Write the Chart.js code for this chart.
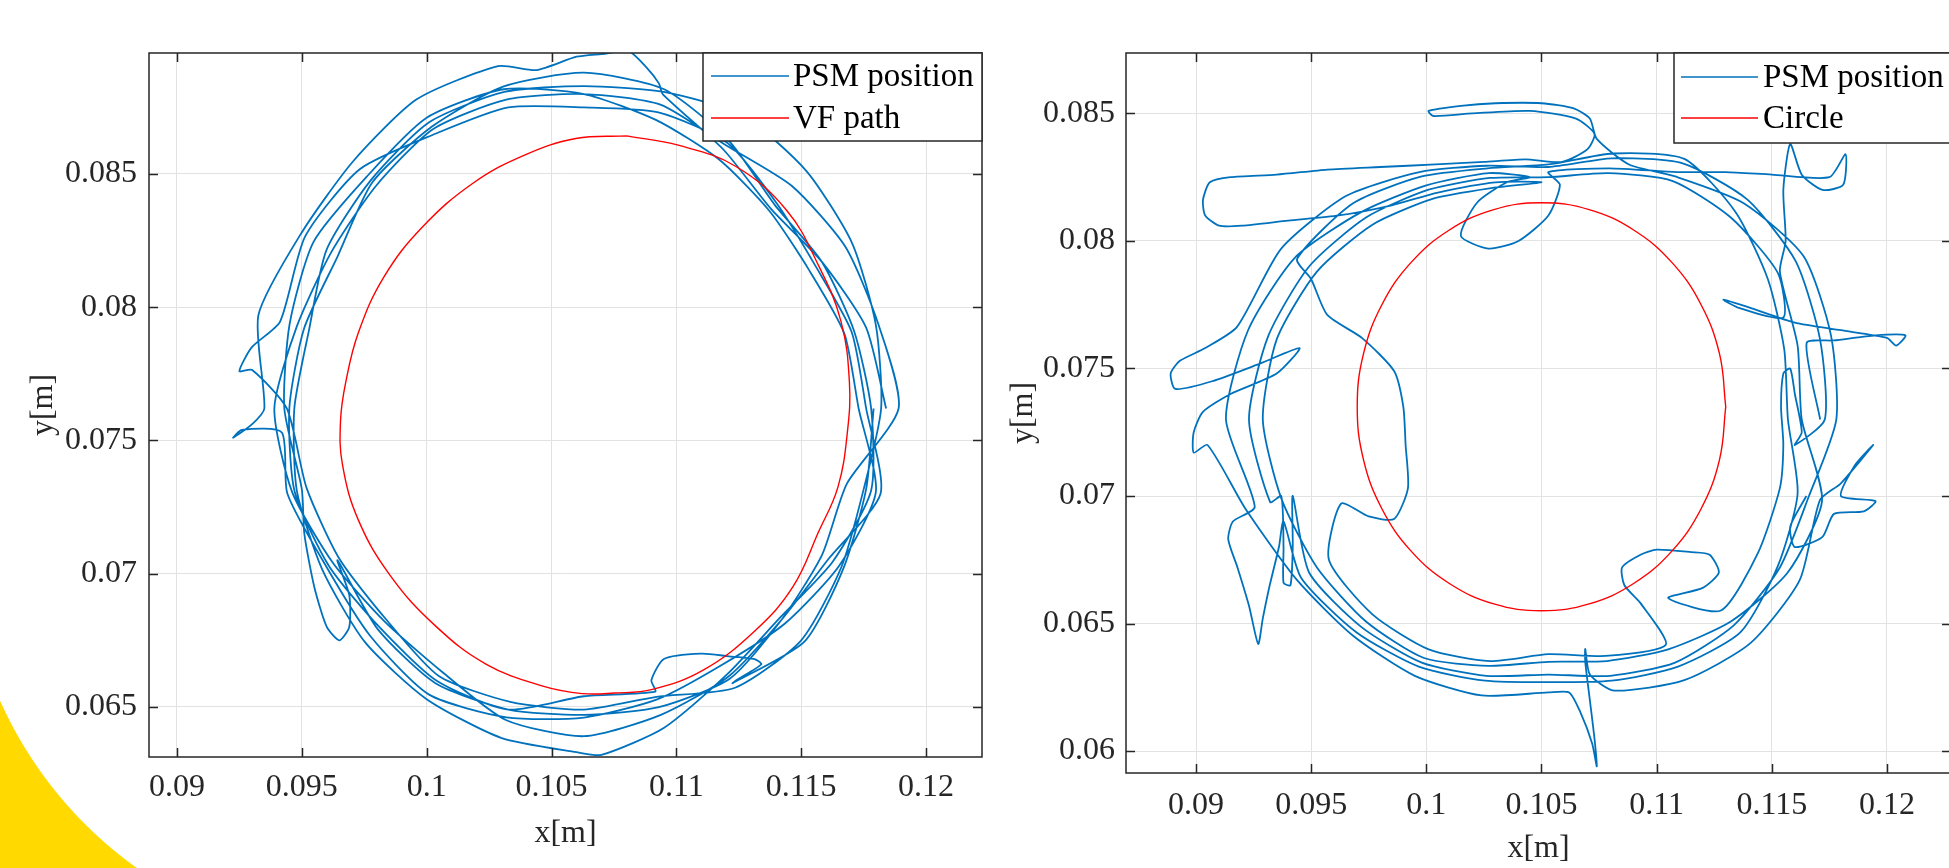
<!DOCTYPE html>
<html><head><meta charset="utf-8">
<script src="https://cdn.jsdelivr.net/npm/chart.js@4/dist/chart.umd.min.js"></script>
<style>
html,body{margin:0;padding:0;background:#fff;overflow:hidden;width:1949px;height:868px;}
#deco{position:absolute;left:0;top:600px;width:200px;height:268px;background:radial-gradient(circle 413px at 377px -68px, rgba(255,255,255,0) 412.5px, #FFD900 413.5px);}
#cl{position:absolute;left:0;top:0;}
#cr{position:absolute;left:990px;top:0;}
</style></head>
<body>
<div id="deco"></div>
<canvas id="cl" width="1000" height="868"></canvas>
<canvas id="cr" width="970" height="868"></canvas>
<script>
// ---------- data (metres) ----------
const leftSeriesNames = ['PSM position', 'VF path'];
const rightSeriesNames = ['PSM position', 'Circle'];

const xTicks = [0.09, 0.095, 0.1, 0.105, 0.11, 0.115, 0.12];
const xTickLabels = ['0.09', '0.095', '0.1', '0.105', '0.11', '0.115', '0.12'];
const yTicksLeft = [0.065, 0.07, 0.075, 0.08, 0.085];
const yTickLabelsLeft = ['0.065', '0.07', '0.075', '0.08', '0.085'];
const yTicksRight = [0.06, 0.065, 0.07, 0.075, 0.08, 0.085];
const yTickLabelsRight = ['0.06', '0.065', '0.07', '0.075', '0.08', '0.085'];

const leftPsm = [
[0.11840,0.07620],[0.11760,0.07923],[0.11583,0.08170],[0.11379,0.08369],[0.11190,0.08590],[0.10946,0.08799],
[0.10930,0.08840],[0.10880,0.08900],[0.10810,0.08960],[0.10700,0.08950],[0.10600,0.08940],[0.10440,0.08890],
[0.10286,0.08905],[0.09960,0.08780],[0.09704,0.08546],[0.09496,0.08275],[0.09326,0.07970],[0.09350,0.07620],
[0.09300,0.07560],[0.09225,0.07510],[0.09260,0.07540],[0.09420,0.07530],
[0.09442,0.07301],[0.09599,0.07025],[0.09775,0.06765],[0.10010,0.06546],[0.10319,0.06461],[0.10630,0.06460],
[0.10923,0.06528],[0.11185,0.06659],[0.11436,0.06814],[0.11652,0.07030],[0.11799,0.07307],
[0.11730,0.07620],[0.11673,0.07900],[0.11531,0.08140],[0.11372,0.08362],[0.11170,0.08555],[0.10920,0.08702],
[0.10630,0.08800],[0.10309,0.08818],[0.10000,0.08711],[0.09760,0.08490],[0.09547,0.08245],[0.09451,0.07936],
[0.09430,0.07620],[0.09500,0.07317],
[0.09510,0.07150],[0.09550,0.06950],[0.09600,0.06800],[0.09650,0.06750],[0.09690,0.06800],[0.09690,0.06920],
[0.09643,0.07050],[0.09803,0.06793],[0.10035,0.06589],[0.10327,0.06490],[0.10630,0.06470],[0.10930,0.06499],
[0.11215,0.06607],[0.11422,0.06828],[0.11583,0.07070],[0.11683,0.07338],
[0.11890,0.07620],[0.11809,0.07936],[0.11678,0.08225],[0.11464,0.08454],[0.11200,0.08607],[0.10936,0.08760],
[0.10630,0.08800],[0.10319,0.08779],[0.10025,0.08668],[0.09796,0.08454],[0.09617,0.08205],[0.09480,0.07928],
[0.09390,0.07620],[0.09461,0.07307],[0.09625,0.07040],[0.09831,0.06821],[0.10060,0.06633],[0.10317,0.06451],
[0.10630,0.06390],[0.10938,0.06470],[0.11210,0.06615],[0.11422,0.06828],[0.11609,0.07055],[0.11818,0.07301],
[0.11760,0.07620],[0.11702,0.07907],[0.11557,0.08155],[0.11401,0.08391],[0.11205,0.08616],[0.10928,0.08731],
[0.10630,0.08750],[0.10327,0.08750],[0.10035,0.08651],[0.09732,0.08518],[0.09513,0.08265],[0.09413,0.07946],
[0.09300,0.07850],[0.09250,0.07760],[0.09300,0.07765],
[0.09440,0.07620],[0.09519,0.07322],[0.09651,0.07055],[0.09838,0.06828],[0.10050,0.06615],[0.10335,0.06519],
[0.10630,0.06490],[0.10920,0.06538],[0.11235,0.06572],[0.11500,0.06750],[0.11661,0.07025],[0.11751,0.07320],
[0.11820,0.07620],[0.11799,0.07933],[0.11704,0.08240],[0.11521,0.08511],[0.11265,0.08720],[0.10949,0.08808],
[0.10630,0.08830],[0.10311,0.08808],[0.10010,0.08694],[0.09775,0.08475],[0.09599,0.08215],[0.09529,0.07915],
[0.09470,0.07620],[0.09480,0.07312],[0.09582,0.07015],[0.09753,0.06743],[0.10000,0.06529],[0.10298,0.06384],
[0.10600,0.06330],[0.10700,0.06320],[0.10951,0.06422],[0.11205,0.06624],[0.11415,0.06835],[0.11626,0.07045],
[0.11780,0.07312],
[0.11780,0.07620],[0.11712,0.07910],[0.11583,0.08170],[0.11394,0.08384],[0.11210,0.08625],[0.10951,0.08818],
[0.10630,0.08880],[0.10306,0.08828],[0.10020,0.08677],[0.09782,0.08468],[0.09643,0.08190],[0.09509,0.07920],
[0.09450,0.07620],[0.09471,0.07309],[0.09608,0.07030],[0.09810,0.06800],[0.10040,0.06598],[0.10327,0.06490],
[0.10630,0.06540],[0.10915,0.06557],
[0.10900,0.06600],[0.10950,0.06680],[0.11100,0.06700],[0.11210,0.06690],[0.11310,0.06680],[0.11340,0.06660],
[0.11240,0.06600],
[0.11225,0.06589],[0.11514,0.06746],[0.11669,0.07020],[0.11760,0.07317],[0.11790,0.07620]
];

const vfPath = [
[0.10802,0.08643],[0.11007,0.08608],[0.11237,0.08529],[0.11442,0.08363],[0.11570,0.08155],[0.11659,0.07948],
[0.11693,0.07719],[0.11685,0.07532],[0.11647,0.07325],[0.11570,0.07158],[0.11467,0.06951],[0.11314,0.06785],
[0.11109,0.06639],[0.10904,0.06566],[0.10751,0.06552],[0.10623,0.06550],[0.10469,0.06577],[0.10239,0.06660],
[0.10034,0.06805],[0.09855,0.06992],[0.09727,0.07200],[0.09663,0.07408],[0.09655,0.07574],[0.09676,0.07719],
[0.09727,0.07906],[0.09829,0.08114],[0.09983,0.08301],[0.10188,0.08467],[0.10392,0.08571],[0.10597,0.08633],
[0.10802,0.08643]
];

const rightPsm = [
[0.11710,0.07300],[0.11651,0.07600],
[0.11770,0.07610],[0.11950,0.07630],[0.12080,0.07630],[0.12040,0.07590],[0.12000,0.07620],[0.11800,0.07650],
[0.11600,0.07680],[0.11400,0.07740],[0.11290,0.07770],[0.11350,0.07740],[0.11550,0.07700],
[0.11526,0.07875],[0.11322,0.08092],[0.11070,0.08235],[0.10789,0.08266],[0.10530,0.08250],[0.10276,0.08247],
[0.10010,0.08201],[0.09738,0.08092],[0.09491,0.07900],[0.09313,0.07626],[0.09230,0.07300],[0.09322,0.06976],
[0.09370,0.07000],[0.09380,0.06800],[0.09380,0.06660],[0.09410,0.06650],[0.09420,0.06800],[0.09420,0.07000],
[0.09491,0.06700],[0.09717,0.06487],[0.09980,0.06347],[0.10261,0.06295],[0.10530,0.06300],[0.10799,0.06295],
[0.11080,0.06347],[0.11336,0.06494],[0.11535,0.06720],[0.11660,0.06997],
[0.11780,0.07300],[0.11757,0.07629],[0.11638,0.07940],[0.11378,0.08148],[0.11080,0.08253],
[0.10880,0.08300],[0.10740,0.08400],[0.10710,0.08480],[0.10640,0.08520],[0.10500,0.08540],[0.10300,0.08540],
[0.10150,0.08530],[0.10010,0.08510],[0.10030,0.08490],[0.10200,0.08500],[0.10450,0.08510],[0.10650,0.08480],
[0.10730,0.08420],[0.10700,0.08360],[0.10590,0.08310],[0.10430,0.08320],[0.10250,0.08310],[0.10040,0.08300],
[0.09800,0.08290],[0.09570,0.08280],[0.09350,0.08260],[0.09150,0.08250],[0.09060,0.08230],[0.09030,0.08160],
[0.09040,0.08100],[0.09100,0.08060],[0.09200,0.08060],[0.09400,0.08080],[0.09620,0.08100],[0.09850,0.08140],
[0.10050,0.08190],[0.10300,0.08230],[0.10500,0.08230],
[0.10287,0.08208],[0.10030,0.08166],[0.09766,0.08064],[0.09525,0.07880],[0.09351,0.07616],[0.09290,0.07300],
[0.09371,0.06989],[0.09525,0.06720],[0.09738,0.06508],[0.09990,0.06365],[0.10271,0.06334],[0.10530,0.06350],
[0.10784,0.06353],[0.11050,0.06399],[0.11322,0.06508],[0.11569,0.06700],[0.11718,0.06981],
[0.11630,0.07300],[0.11612,0.07590],[0.11535,0.07880],
[0.11560,0.08000],[0.11550,0.08200],[0.11580,0.08380],[0.11630,0.08260],[0.11720,0.08200],[0.11810,0.08220],
[0.11820,0.08340],[0.11750,0.08250],[0.11500,0.08260],[0.11300,0.08270],
[0.11090,0.08270],[0.10794,0.08285],[0.10530,0.08270],
[0.10580,0.08220],[0.10530,0.08100],[0.10400,0.08000],[0.10270,0.07970],[0.10150,0.08020],[0.10220,0.08150],
[0.10350,0.08230],[0.10450,0.08250],
[0.10271,0.08266],[0.10000,0.08218],[0.09717,0.08113],[0.09430,0.07935],[0.09226,0.07650],[0.09130,0.07300],
[0.09255,0.06958],
[0.09160,0.06900],[0.09140,0.06830],[0.09180,0.06720],[0.09230,0.06570],[0.09270,0.06420],[0.09290,0.06520],
[0.09320,0.06650],[0.09360,0.06800],[0.09380,0.06900],
[0.09456,0.06680],[0.09696,0.06466],[0.09970,0.06330],[0.10255,0.06276],[0.10530,0.06270],[0.10805,0.06276],
[0.11090,0.06330],[0.11364,0.06466],[0.11526,0.06725],[0.11612,0.07010],
[0.11570,0.07300],[0.11554,0.07575],[0.11483,0.07850],[0.11343,0.08113],[0.11120,0.08322],[0.10810,0.08343],
[0.10530,0.08300],[0.10266,0.08285],[0.09980,0.08253],[0.09682,0.08148],[0.09439,0.07930],
[0.09500,0.07850],[0.09570,0.07710],[0.09720,0.07620],[0.09860,0.07490],[0.09900,0.07350],[0.09910,0.07200],
[0.09920,0.07030],[0.09860,0.06910],[0.09750,0.06920],[0.09630,0.06970],
[0.09577,0.06750],[0.09766,0.06536],[0.10010,0.06399],[0.10276,0.06353],[0.10530,0.06380],[0.10779,0.06373],
[0.11040,0.06417],
[0.10930,0.06580],[0.10860,0.06650],[0.10850,0.06720],[0.10930,0.06770],[0.11000,0.06790],[0.11150,0.06780],
[0.11230,0.06770],[0.11270,0.06700],[0.11200,0.06640],[0.11050,0.06600],
[0.11279,0.06551],[0.11439,0.06775],[0.11535,0.07031],
[0.11550,0.07200],[0.11540,0.07350],[0.11550,0.07480],[0.11580,0.07500],[0.11600,0.07400],[0.11630,0.07250],
[0.11600,0.07200],
[0.11730,0.07300],[0.11709,0.07616],[0.11604,0.07920],[0.11393,0.08163],[0.11110,0.08305],[0.10805,0.08324],
[0.10530,0.08290],[0.10263,0.08295],[0.09970,0.08270],[0.09653,0.08177],[0.09370,0.07970],[0.09178,0.07663],
[0.09040,0.07580],[0.08930,0.07530],[0.08890,0.07480],[0.08910,0.07420],[0.09070,0.07450],[0.09280,0.07520],
[0.09450,0.07580],[0.09350,0.07480],[0.09150,0.07400],[0.09030,0.07330],[0.08990,0.07250],[0.08990,0.07170],
[0.09050,0.07200],
[0.09216,0.06948],[0.09439,0.06670],[0.09682,0.06452],[0.09950,0.06295],[0.10240,0.06218],[0.10530,0.06230],
[0.10620,0.06230],[0.10670,0.06150],[0.10720,0.06030],[0.10740,0.05940],[0.10730,0.06050],[0.10710,0.06200],
[0.10690,0.06350],[0.10690,0.06400],[0.10710,0.06300],
[0.10815,0.06237],[0.11120,0.06278],[0.11407,0.06423],[0.11621,0.06670],[0.11709,0.06984],
[0.11800,0.07050],[0.11940,0.07200],[0.11860,0.07120],[0.11800,0.07000],[0.11950,0.06980],[0.11900,0.06940],
[0.11770,0.06930],[0.11720,0.06840],[0.11600,0.06800],[0.11580,0.06880],[0.11650,0.07000]
];

const circlePath = [
[0.11300,0.07350],[0.11273,0.07557],[0.11193,0.07750],[0.11066,0.07916],[0.10900,0.08043],[0.10707,0.08123],
[0.10500,0.08150],[0.10293,0.08123],[0.10100,0.08043],[0.09934,0.07916],[0.09807,0.07750],[0.09727,0.07557],
[0.09700,0.07350],[0.09727,0.07143],[0.09807,0.06950],[0.09934,0.06784],[0.10100,0.06657],[0.10293,0.06577],
[0.10500,0.06550],[0.10707,0.06577],[0.10900,0.06657],[0.11066,0.06784],[0.11193,0.06950],[0.11273,0.07143],
[0.11300,0.07350]
];

// ---------- rendering ----------
const FONT = "'Liberation Serif', 'Times New Roman', serif";
const INK = '#262626';
const BLUE = '#0072BD';
const RED = '#FF0000';

const framePlugin = {
  id: 'frame',
  afterDatasetsDraw(chart, args, opts) {
    const {ctx, chartArea: a} = chart;
    const x = chart.scales.x, y = chart.scales.y;
    ctx.save();
    ctx.strokeStyle = INK;
    ctx.lineWidth = 1.5;
    ctx.beginPath();
    const tl = 9;
    x.ticks.forEach(t => {
      const px = Math.round(x.getPixelForValue(t.value)) + 0.5;
      ctx.moveTo(px, a.bottom); ctx.lineTo(px, a.bottom - tl);
      ctx.moveTo(px, a.top); ctx.lineTo(px, a.top + tl);
    });
    y.ticks.forEach(t => {
      const py = Math.round(y.getPixelForValue(t.value)) + 0.5;
      ctx.moveTo(a.left, py); ctx.lineTo(a.left + tl, py);
      ctx.moveTo(a.right, py); ctx.lineTo(a.right - tl, py);
    });
    ctx.stroke();
    ctx.strokeRect(a.left, a.top, a.right - a.left, a.bottom - a.top);

    const L = opts.box;
    ctx.fillStyle = '#fff';
    ctx.fillRect(L.x, L.y, L.w, L.h);
    ctx.strokeRect(L.x, L.y, L.w, L.h);
    ctx.font = '33px ' + FONT;
    ctx.textBaseline = 'middle';
    ctx.textAlign = 'left';
    opts.names.forEach((name, i) => {
      const ry = L.rows[i];
      ctx.strokeStyle = i === 0 ? BLUE : RED;
      ctx.lineWidth = 1.6;
      ctx.beginPath();
      ctx.moveTo(L.lx1, ry); ctx.lineTo(L.lx2, ry);
      ctx.stroke();
      ctx.fillStyle = '#000';
      ctx.fillText(name, L.tx, ry + 1);
    });
    ctx.restore();
  }
};

function toXY(arr) { return arr.map(p => ({x: p[0], y: p[1]})); }

function makeChart(id, cfg) {
  return new Chart(document.getElementById(id), {
    type: 'scatter',
    data: {
      datasets: [
        {label: cfg.names[1], data: toXY(cfg.red), showLine: true, borderColor: RED, borderWidth: 1.4,
         pointRadius: 0, tension: 0.4, fill: false, order: 0},
        {label: cfg.names[0], data: toXY(cfg.blue), showLine: true, borderColor: BLUE, borderWidth: 1.8,
         pointRadius: 0, tension: 0.22, fill: false, order: 1}
      ]
    },
    options: {
      responsive: false,
      animation: false,
      events: [],
      layout: {padding: {top: cfg.top, right: cfg.padRight, left: 0, bottom: 0}},
      plugins: {legend: {display: false}, tooltip: {enabled: false}, frame: {box: cfg.box, names: cfg.names}},
      scales: {
        x: {
          type: 'linear', min: cfg.xMin, max: cfg.xMax,
          afterBuildTicks: s => { s.ticks = xTicks.map(v => ({value: v})); },
          afterFit: s => { s.height = cfg.xAxisH; },
          ticks: {padding: cfg.xLabPad, color: INK, font: {family: FONT, size: 32}, maxRotation: 0, autoSkip: false,
                  callback: (v, i) => xTickLabels[i]},
          grid: {color: '#e2e2e2', lineWidth: 1, drawTicks: false},
          border: {display: false},
          title: {display: true, text: 'x[m]', color: INK, font: {family: FONT, size: 32},
                  padding: {top: 0, bottom: cfg.xTitlePad}}
        },
        y: {
          type: 'linear', min: cfg.yMin, max: cfg.yMax,
          afterBuildTicks: s => { s.ticks = cfg.yTicks.map(v => ({value: v})); },
          afterFit: s => { s.width = cfg.yAxisW; },
          ticks: {padding: cfg.yLabPad, color: INK, font: {family: FONT, size: 32}, autoSkip: false,
                  callback: (v, i) => cfg.yLabels[i]},
          grid: {color: '#e2e2e2', lineWidth: 1, drawTicks: false},
          border: {display: false},
          title: {display: true, text: 'y[m]', color: INK, font: {family: FONT, size: 32},
                  padding: {top: cfg.yTitlePad, bottom: 0}}
        }
      }
    },
    plugins: [framePlugin]
  });
}

makeChart('cl', {
  names: leftSeriesNames, blue: leftPsm, red: vfPath,
  xMin: 0.08888, xMax: 0.12224, yMin: 0.06312, yMax: 0.08954,
  yTicks: yTicksLeft, yLabels: yTickLabelsLeft,
  top: 53, padRight: 18, xAxisH: 111, yAxisW: 149,
  xLabPad: 11, yLabPad: 12, xTitlePad: 14.8, yTitlePad: 24.8,
  box: {x: 703, y: 53, w: 279, h: 88, lx1: 711, lx2: 789, tx: 793, rows: [76, 118]}
});

makeChart('cr', {
  names: rightSeriesNames, blue: rightPsm, red: circlePath,
  xMin: 0.08696, xMax: 0.12278, yMin: 0.05914, yMax: 0.08737,
  yTicks: yTicksRight, yLabels: yTickLabelsRight,
  top: 53, padRight: 9, xAxisH: 95, yAxisW: 136,
  xLabPad: 13, yLabPad: 11, xTitlePad: 0, yTitlePad: 14.8,
  box: {x: 684, y: 53, w: 277, h: 90, lx1: 691, lx2: 768, tx: 773, rows: [77, 118]}
});
</script>
</body></html>
